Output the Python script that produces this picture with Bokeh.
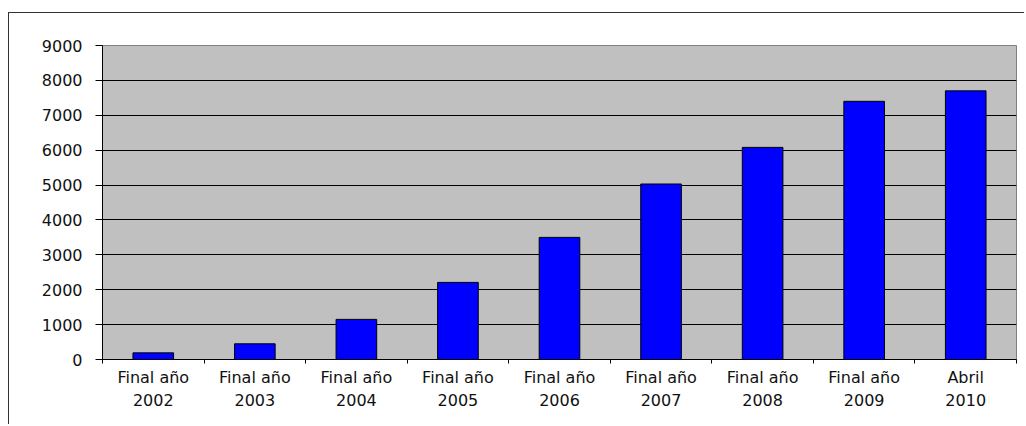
from bokeh.plotting import figure
from bokeh.models import Range1d, FixedTicker
from bokeh.embed import file_html
from bokeh.resources import INLINE

categories = ["Final año\n2002", "Final año\n2003", "Final año\n2004", "Final año\n2005",
              "Final año\n2006", "Final año\n2007", "Final año\n2008", "Final año\n2009",
              "Abril\n2010"]
values = [190, 450, 1150, 2210, 3500, 5030, 6080, 7400, 7700]
y_ticks = [0, 1000, 2000, 3000, 4000, 5000, 6000, 7000, 8000, 9000]

xs = [i + 0.5 for i in range(len(categories))]
bounds = list(range(len(categories) + 1))

FONT = "DejaVu Sans"
FSIZE = "16px"

p = figure(width=1016, height=412,
           x_range=Range1d(0, len(categories)), y_range=Range1d(y_ticks[0], y_ticks[-1]),
           output_backend="svg", toolbar_location=None,
           min_border_left=93, min_border_right=9, min_border_top=32, min_border_bottom=66)

p.vbar(x=xs, top=values, width=0.4, fill_color="#0000FF", line_color="black", line_width=1)

p.background_fill_color = "#C0C0C0"
p.border_fill_color = "white"
p.outline_line_color = "#808080"
p.outline_line_width = 1

p.xgrid.visible = False
p.ygrid.ticker = FixedTicker(ticks=y_ticks[1:-1])
p.ygrid.grid_line_color = "black"
p.ygrid.grid_line_width = 1

ya = p.yaxis[0]
ya.ticker = FixedTicker(ticks=y_ticks)
ya.axis_line_color = "black"
ya.major_tick_line_color = "black"
ya.major_tick_out = 7
ya.major_tick_in = 0
ya.minor_tick_out = 0
ya.minor_tick_in = 0
ya.major_label_standoff = 13
ya.major_label_text_font = FONT
ya.major_label_text_font_size = FSIZE
ya.major_label_text_color = "#111111"

xa = p.xaxis[0]
xa.ticker = FixedTicker(ticks=xs, minor_ticks=bounds)
xa.major_label_overrides = {x: lab for x, lab in zip(xs, categories)}
xa.axis_line_color = "black"
xa.major_tick_out = 0
xa.major_tick_in = 0
xa.minor_tick_out = 4
xa.minor_tick_in = 0
xa.minor_tick_line_color = "black"
xa.major_label_standoff = 4
xa.major_label_text_font = FONT
xa.major_label_text_font_size = FSIZE
xa.major_label_text_color = "#111111"
xa.major_label_text_line_height = 1.22

p.styles = {"position": "relative", "left": "8px", "top": "12px",
            "border-left": "1px solid #333333", "border-top": "1px solid #333333"}

open("out.html", "w").write(file_html(p, INLINE))
